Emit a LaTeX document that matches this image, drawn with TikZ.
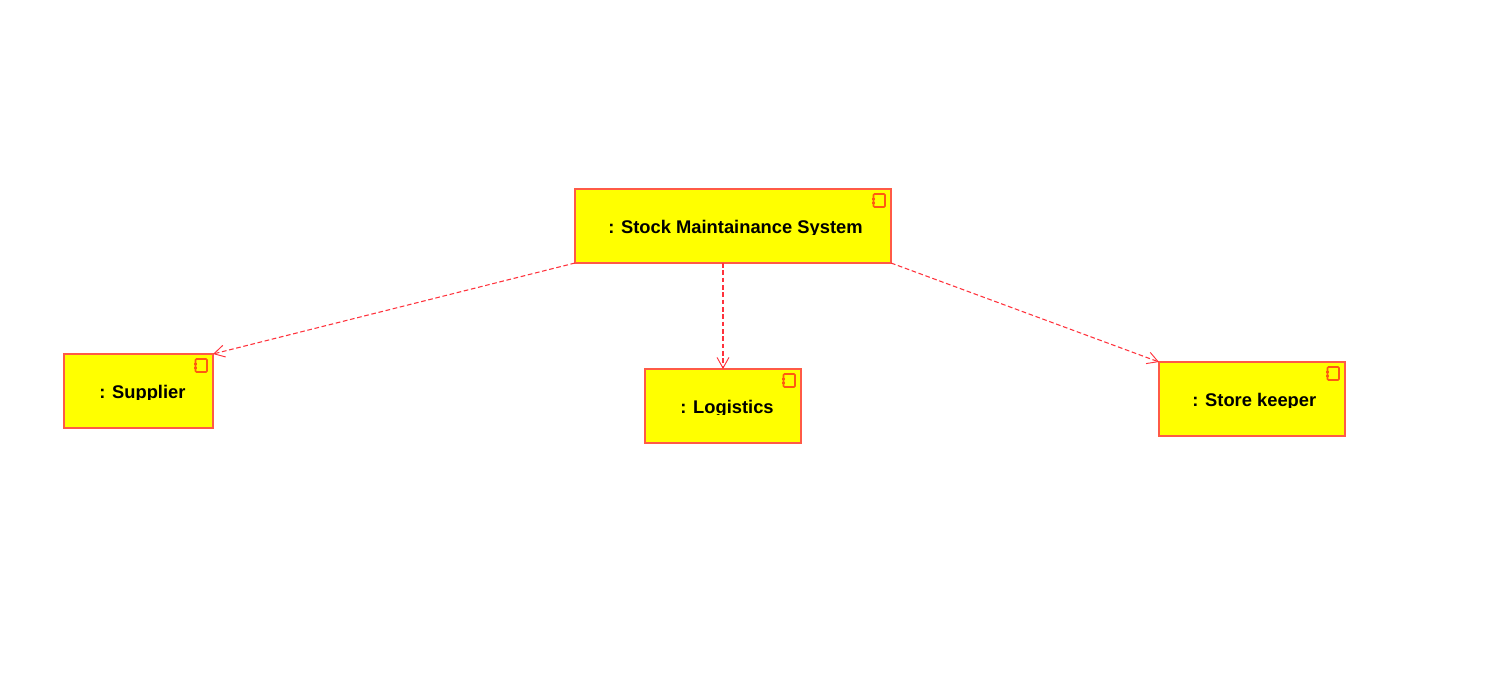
\documentclass[tikz,border=0pt]{standalone}
\usepackage{fontspec}
\setmainfont{Liberation Sans}
\usetikzlibrary{arrows.meta,calc}
\definecolor{pureyellow}{RGB}{255,255,0}
\definecolor{edgered}{RGB}{255,90,70}
\definecolor{iconred}{RGB}{255,90,16}
\definecolor{linkred}{RGB}{255,50,60}
\tikzset{
  compbox/.style={draw=edgered,fill=pureyellow,line width=1.2pt,minimum height=55.5pt,inner sep=0pt,outer sep=0pt,anchor=north west},
  complabel/.style={font=\bfseries\fontsize{13.75}{16}\selectfont,text=black,inner sep=0pt,anchor=base west},
  iconline/.style={draw=iconred,line width=1.2pt,rounded corners=0.8pt},
  deplink/.style={draw=linkred,line width=0.8pt,dash pattern=on 3.5pt off 2pt,-{Straight Barb[length=8pt,width=9pt,line width=0.7pt]}}
}
% #1 name, #2 left px, #3 top px, #4 width px, #5 text left px, #6 text
\newcommand{\compbox}[6]{%
  \node[compbox,minimum width=#4*0.75pt] (#1) at (#2,#3) {};
  \draw[iconline] ($(#1.north east)+(-17.5,5)$) rectangle ($(#1.north east)+(-6,18)$);
  \fill[iconred] ($(#1.north east)+(-19.5,8.5)$) rectangle ($(#1.north east)+(-16,11)$);
  \fill[iconred] ($(#1.north east)+(-19.5,12.5)$) rectangle ($(#1.north east)+(-16,15)$);
  \begin{scope}
    \clip ($(#1.north west)+(1,27)$) rectangle ($(#1.north east)+(-1,45.3)$);
    \node[complabel] (#1text) at ($(#1.north west)+(#5-#2,44.2)$) {#6};
  \end{scope}
}
\begin{document}
\begin{tikzpicture}[x=0.75pt,y=-0.75pt]
\useasboundingbox (0,0) rectangle (1496,693);
\fill[white] (0,0) rectangle (1496,693);
\compbox{stock}{575}{189}{316}{608}{: Stock Maintainance System}
\compbox{sup}{64}{354}{149}{99}{: Supplier}
\compbox{log}{645}{369}{156}{680}{: Logistics}
\compbox{store}{1159}{362}{186}{1192}{: Store keeper}
\draw[deplink] (stock.south west) -- (sup.north east);
\draw[deplink] (log.north |- stock.south) -- (log.north);
\draw[deplink] (stock.south east) -- (store.north west);
\end{tikzpicture}
\end{document}
